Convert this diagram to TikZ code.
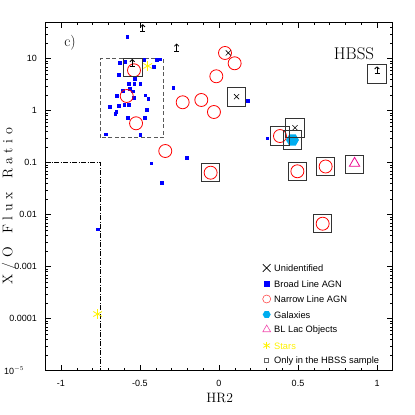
\documentclass[tikz,border=0pt]{standalone}
\usepackage{fontspec}
\newfontfamily\plotsans{Liberation Sans}
\usepackage{xcolor}
\usetikzlibrary{positioning, arrows.meta, shapes.geometric, shapes.misc}

\definecolor{boxgray}{gray}{0.2}
\definecolor{dashgray}{gray}{0.35}
\newcommand{\lsp}{\kern4.5pt}

\tikzset{
  blagn/.style={rectangle, fill=blue, minimum size=3.6pt, inner sep=0pt},
  nlagn/.style={circle, draw=red, line width=0.8pt, minimum size=13pt, inner sep=0pt},
  hbssbox/.style={rectangle, draw=boxgray, line width=0.9pt, minimum size=18.5pt, inner sep=0pt},
  unid/.style={cross out, draw=black, line width=0.6pt, minimum size=4.5pt, inner sep=0pt},
  galaxy/.style={regular polygon, regular polygon sides=6, fill=cyan, minimum size=13pt, inner sep=0pt},
  bllac/.style={regular polygon, regular polygon sides=3, draw=magenta, line width=0.8pt, minimum size=12pt, inner sep=0pt},
  ticklab/.style={font=\fontsize{9}{10}\plotsans, inner sep=0pt},
  leglab/.style={font=\fontsize{9.3}{11}\plotsans, anchor=west, inner sep=0pt},
  axlab/.style={font=\fontsize{13.6}{16}\selectfont, inner sep=0pt},
  pics/lowlim/.style={code={
    \draw[line width=0.8pt] (-2.5pt,0pt) -- (2.5pt,0pt);
    \draw[line width=0.8pt, -{Straight Barb[length=2.2pt, width=4.6pt]}] (0pt,0pt) -- (0pt,7.5pt);}},
  pics/starmark/.style={code={
    \foreach \a in {90,30,150} \draw[yellow, line width=0.8pt] (\a:#1) -- (\a+180:#1);}},
}

\begin{document}
\begin{tikzpicture}[x=1pt, y=-1pt]
\useasboundingbox (0,0) rectangle (415,415);

% data frame: HR2 horizontally, log10 of X/O vertically
\begin{scope}[shift={(219,110.7)}, x=158pt, y=52pt]
  \draw[line width=0.9pt] (-1.1,-5) rectangle (1.1,1.7);
  \foreach \i in {-10,...,10} {
    \draw[line width=0.6pt] (\i/10,-5) -- ++(0,3pt);
    \draw[line width=0.6pt] (\i/10,1.7) -- ++(0,-3pt);
  }
  \foreach \t in {-1,-0.5,0,0.5,1} {
    \draw[line width=0.6pt] (\t,-5) -- ++(0,6pt);
    \draw[line width=0.6pt] (\t,1.7) -- ++(0,-6pt);
  }
  \foreach \d in {-5,...,1} {
    \draw[line width=0.6pt] (-1.1,\d) -- ++(6pt,0);
    \draw[line width=0.6pt] (1.1,\d) -- ++(-6pt,0);
  }
  \foreach \d in {-5,...,0} \foreach \k in {2,...,9} {
    \draw[line width=0.5pt] (-1.1,{\d+log10(\k)}) -- ++(3pt,0);
    \draw[line width=0.5pt] (1.1,{\d+log10(\k)}) -- ++(-3pt,0);
  }
  \foreach \k in {2,...,5} {
    \draw[line width=0.5pt] (-1.1,{1+log10(\k)}) -- ++(3pt,0);
    \draw[line width=0.5pt] (1.1,{1+log10(\k)}) -- ++(-3pt,0);
  }

  % tick labels
  \foreach \d/\lab [count=\i] in {1/10, 0/1, -1/0.1, -2/0.01, -3/0.001, -4/0.0001}
    \node[ticklab, anchor=east, xshift=-8pt] (ylab\i) at (-1.1,\d) {\lab};
  \node[ticklab, anchor=east, xshift=-21pt] (ylabmin) at (-1.1,-5) {10$^{-5}$};
  \foreach \t/\lab [count=\i] in {-1/-1, -0.5/-0.5, 0/0, 0.5/0.5, 1/1}
    \node[ticklab, yshift=-12.7pt] (xlab\i) at (\t,-5) {\lab};

  % selection regions
  \draw[dashgray, line width=0.8pt, dash pattern=on 4pt off 2.5pt] (-0.75,-0.523) rectangle (-0.35,1);
  \draw[line width=0.6pt, dash pattern=on 5pt off 1.5pt on 1pt off 1.5pt] (-1.1,-1) -- (-0.75,-1) -- (-0.75,-5);

  % broad line AGN
  \foreach \x/\y [count=\i] in {-0.578/1.423, -0.625/0.923, -0.591/0.937, -0.475/0.975, -0.392/0.975,
      -0.375/0.988, -0.411/0.846, -0.633/0.687, -0.530/0.615, -0.570/0.519, -0.534/0.513,
      -0.496/0.513, -0.563/0.412, -0.544/0.373, -0.646/0.277, -0.606/0.379, -0.538/0.250,
      -0.464/0.296, -0.445/0.225, -0.633/0.096, -0.599/0.104, -0.568/0.104, -0.690/0.071,
      -0.650/-0.025, -0.656/-0.063, -0.454/0.019, -0.468/-0.135, -0.576/-0.135, -0.715/-0.454,
      -0.496/-0.473, -0.426/-1.012, -0.361/-1.396, -0.204/-0.904, -0.289/0.431, 0.185/0.187,
      0.308/-0.535, -0.764/-2.281}
    \node[blagn] (bl\i) at (\x,\y) {};

  % narrow line AGN
  \foreach \x/\y [count=\i] in {-0.538/0.777, -0.584/0.283, -0.525/-0.242, -0.230/0.162,
      -0.112/0.206, -0.340/-0.775, 0.038/1.110, 0.099/0.912, -0.017/0.662, -0.032/-0.025,
      -0.053/-1.192, 0.386/-0.487, 0.496/-1.165, 0.675/-1.073, 0.656/-2.173}
    \node[nlagn] (nl\i) at (\x,\y) {};

  % galaxy, BL Lac, unidentified
  \node[galaxy] (gal1) at (0.465,-0.563) {};
  \node[bllac] (bll1) at (0.858,-1.012) {};
  \foreach \x/\y [count=\i] in {0.059/1.110, 0.111/0.269, 0.481/-0.327}
    \node[unid] (un\i) at (\x,\y) {};

  % stars
  \pic at (-0.451,0.860) {starmark=5pt};
  \pic at (-0.768,-3.910) {starmark=5pt};

  % lower limits
  \foreach \x/\y in {-0.483/1.52, -0.268/1.148, -0.549/0.85, 1.0/0.71}
    \pic at (\x,\y) {lowlim};

  % only in the HBSS sample
  \foreach \x/\y [count=\i] in {-0.544/0.831, -0.053/-1.192, 0.386/-0.487, 0.496/-1.165,
      0.675/-1.073, 0.656/-2.173, 0.111/0.269, 0.481/-0.327, 0.465/-0.563, 0.858/-1.031, 1.0/0.71}
    \node[hbssbox] (hb\i) at (\x,\y) {};
\end{scope}

% labels
\node[font=\fontsize{15}{18}\selectfont, inner sep=0pt] (panel) at (70,43) {c)};
\node[font=\fontsize{17}{20}\selectfont, inner sep=0pt] (sample) at (354,53.3) {HBSS};
\node[axlab, font=\fontsize{14}{16}\selectfont, rotate=90] (ytitle) at (9,206)
  {X\lsp/\lsp O\lsp\ \lsp F\lsp l\lsp u\lsp x\lsp\ \lsp R\lsp a\lsp t\lsp i\lsp o};
\node[axlab] (xtitle) at (219.7,398) {HR2};

% legend
\node[unid, minimum size=7pt, line width=0.7pt] (lg1) at (266.7,268) {};
\node[blagn, minimum size=6pt] (lg2) at (266.7,283.5) {};
\node[nlagn, minimum size=8pt, line width=0.6pt, draw=red!70] (lg3) at (266.7,299) {};
\node[galaxy, minimum size=8pt] (lg4) at (266.7,314.5) {};
\node[bllac, minimum size=9pt, line width=0.6pt, draw=magenta!70] (lg5) at (266.7,329.5) {};
\pic at (266.7,345.5) {starmark=3.8pt};
\node[hbssbox, minimum size=4pt, line width=0.6pt, draw=black!60] (lg7) at (266.7,360.5) {};
\node[leglab] (lt1) at (274,268.5) {Unidentified};
\node[leglab] (lt2) at (274,284) {Broad Line AGN};
\node[leglab] (lt3) at (274,299.5) {Narrow Line AGN};
\node[leglab] (lt4) at (274,315) {Galaxies};
\node[leglab] (lt5) at (274,330.5) {BL Lac Objects};
\node[leglab, text=yellow] (lt6) at (274,346) {Stars};
\node[leglab] (lt7) at (274,361) {Only in the HBSS sample};
\end{tikzpicture}
\end{document}
